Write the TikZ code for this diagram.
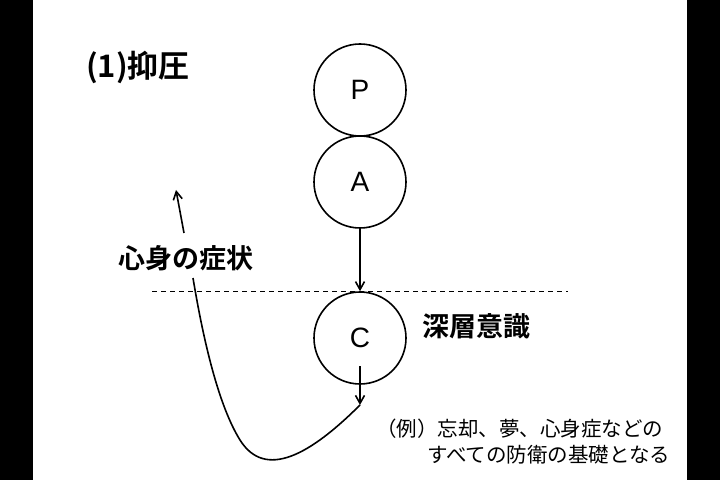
\documentclass[tikz,border=0pt]{standalone}
\usepackage{fontspec}
\setmainfont{Liberation Sans}
\newfontfamily\jpfont{Noto Sans CJK JP}[BoldFont={* Bold}]
\usetikzlibrary{arrows.meta}

\begin{document}
\begin{tikzpicture}[x=1pt,y=-1pt,->,>={Straight Barb[length=8pt,width=9pt]},line width=1.6pt,
        ego node/.style={circle,draw,minimum size=92pt,inner sep=0pt,font=\fontsize{28}{28}\selectfont},
        jp label/.style={font=\jpfont\bfseries\fontsize{27}{30}\selectfont}]

    \fill[black] (0,0) rectangle (720,480);
    \fill[white] (33,0) rectangle (687,480);

    \node[ego node] (P) at (360,90) {P};
    \node[ego node] (A) at (360,182) {A};
    \node[ego node] (C) at (360,338) {C};

    \node[font=\jpfont\bfseries\fontsize{31}{34}\selectfont] (title) at (138,67) {(1)抑圧};
    \node[jp label] (symptom) at (186,258) {心身の症状};
    \node[jp label] (deep) at (476,326) {深層意識};
    \node[anchor=west,font=\jpfont\fontsize{20.5}{22}\selectfont] (ex1) at (372,429) {（例）忘却、夢、心身症などの};
    \node[anchor=west,font=\jpfont\fontsize{20.5}{22}\selectfont] (ex2) at (423,455) {すべての防衛の基礎となる};

    \coordinate (lineL) at (152,291);
    \coordinate (lineR) at (568,291);
    \coordinate (cStart) at (360,366);
    \coordinate (cEnd) at (360,405);
    \coordinate (upStart) at (184,233);
    \coordinate (up) at (176,190);

    \draw[-,line width=0.8pt,dash pattern=on 5pt off 4pt] (lineL) -- (lineR);
    \draw (A.south) -- (C.north);
    \draw (cStart) -- (cEnd);
    \draw[-] (cEnd) .. controls (310,455) and (265,480) .. (240,440)
        .. controls (215,400) and (200,320) .. (193,278);
    \draw (upStart) -- (up);

\end{tikzpicture}
\end{document}
